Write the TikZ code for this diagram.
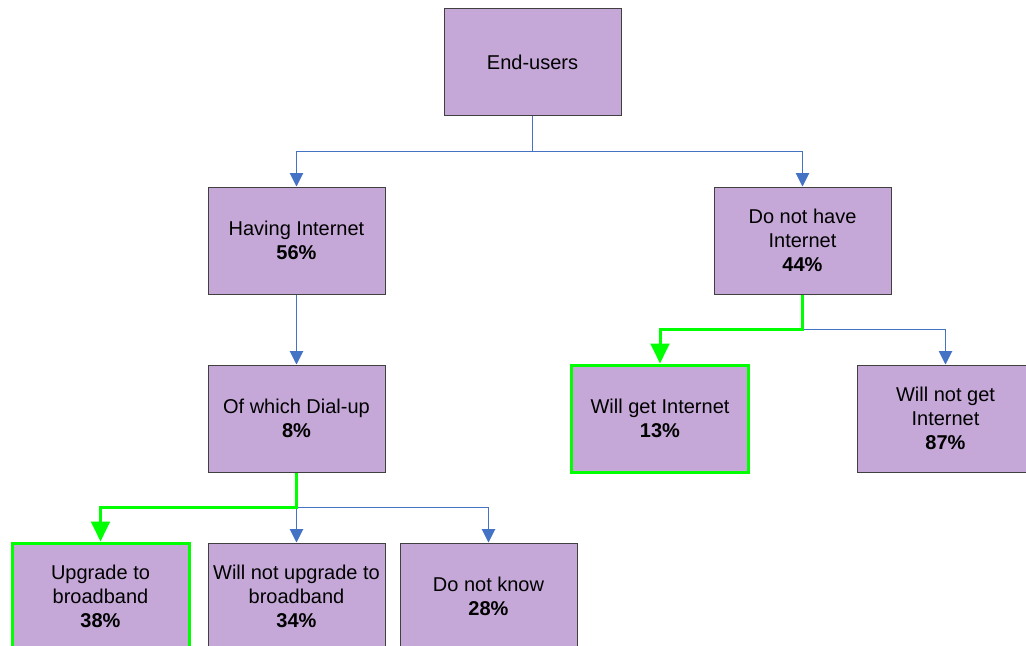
\documentclass[tikz,border=0pt]{standalone}
\usepackage{fontspec}
\setmainfont{Liberation Sans}
\usetikzlibrary{arrows.meta}
\definecolor{boxfill}{RGB}{197,168,216}
\definecolor{boxline}{RGB}{64,64,64}
\definecolor{linkblue}{RGB}{68,114,196}
\definecolor{pickgreen}{RGB}{0,255,0}
\tikzset{
  box/.style={draw=boxline, line width=0.75pt, fill=boxfill, minimum width=132.75pt, minimum height=80.25pt, inner sep=0pt, align=center, font=\fontsize{15}{18}\selectfont},
  pickbox/.style={box, draw=pickgreen, line width=2.25pt},
  link/.style={draw=linkblue, line width=0.75pt, -{Triangle[length=10pt,width=10pt]}},
  picklink/.style={draw=pickgreen, line width=2.25pt, -{Triangle[length=15pt,width=14pt]}},
}
\begin{document}
\begin{tikzpicture}[x=0.75pt,y=0.75pt,yscale=-1,xscale=1]
\useasboundingbox (0,0) rectangle (1026,646);
\clip (0,0) rectangle (1026,646);

% Boxes
\node [box] (top) at (532.5,62) {End-users};
\node [box] (have) at (296.5,240.5) {Having Internet\\\textbf{56\%}};
\node [box] (havenot) at (802.5,240.5) {Do not have\\Internet\\\textbf{44\%}};
\node [box] (dialup) at (296.5,418.5) {Of which Dial-up\\\textbf{8\%}};
\node [pickbox] (willget) at (660,418.5) {Will get Internet\\\textbf{13\%}};
\node [box] (willnot) at (945.5,418.5) {Will not get\\Internet\\\textbf{87\%}};
\node [pickbox] (upgrade) at (100.5,596.5) {Upgrade to\\broadband\\\textbf{38\%}};
\node [box] (noupgrade) at (296.5,596.5) {Will not upgrade to\\broadband\\\textbf{34\%}};
\node [box] (dontknow) at (488.5,596.5) {Do not know\\\textbf{28\%}};

% Branch points
\coordinate (topsplit) at (532.5,151);
\coordinate (havenotsplit) at (802.5,329);
\coordinate (dialsplit) at (296.5,507);

% Connectors
\draw [link] (top.south) -- (topsplit) -| (have.north);
\draw [link] (topsplit) -| (havenot.north);
\draw [link] (have.south) -- (dialup.north);
\draw [link] (havenotsplit) -| (willnot.north);
\draw [link] (dialup.south) -- (noupgrade.north);
\draw [link] (dialsplit) -| (dontknow.north);

% Highlighted paths
\draw [picklink] (havenot.south) -- (havenotsplit) -| (willget.north);
\draw [picklink] (dialup.south) -- (dialsplit) -| (upgrade.north);

\end{tikzpicture}
\end{document}
